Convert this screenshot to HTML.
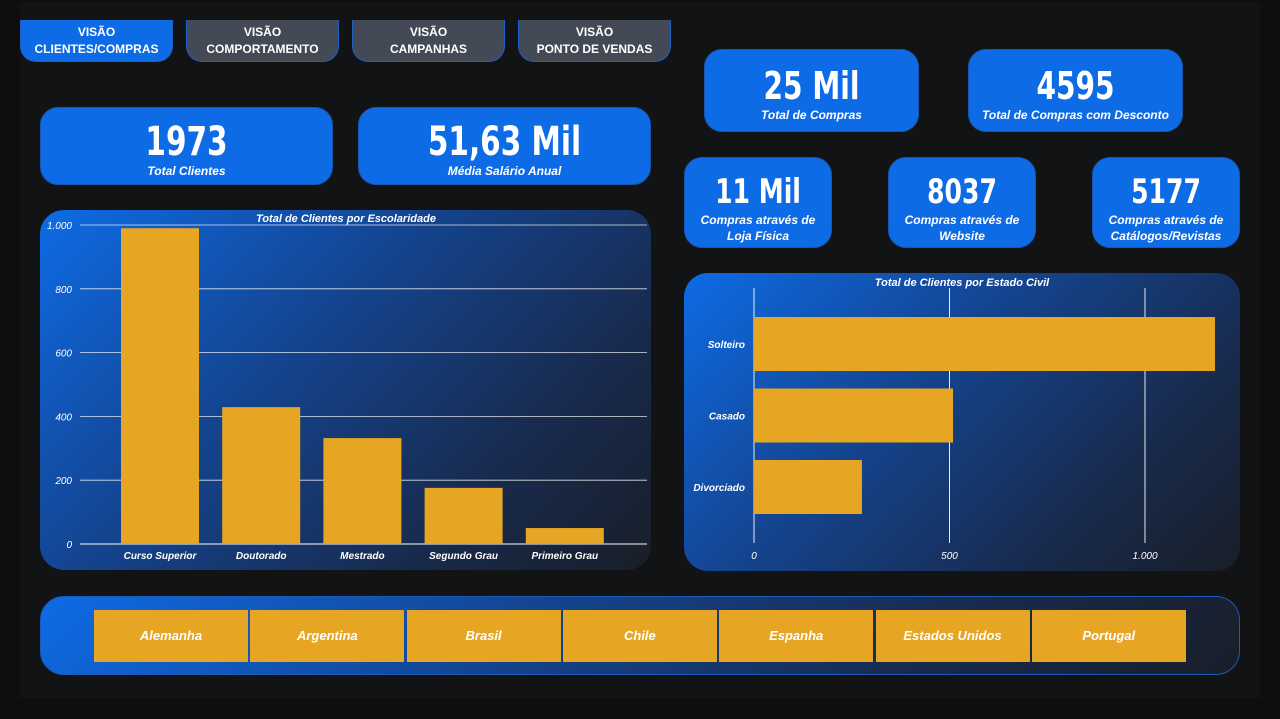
<!DOCTYPE html>
<html><head><meta charset="utf-8"><style>
*{margin:0;padding:0;box-sizing:border-box}
body{width:1280px;height:719px;background:#0e0e0e;position:relative;overflow:hidden;font-family:"Liberation Sans",sans-serif;color:#fff}
.canvas{position:absolute;left:20px;top:2px;width:1240px;height:696px;background:#121315}
.tab{position:absolute;top:20px;height:42px;border-radius:0 0 16px 16px;background:#434a55;border:1px solid #1e5fc8;border-top:none;font-weight:bold;font-size:12px;text-align:center;line-height:17px;padding-top:4px}
.tab.on{background:#0e6be6}
.kpi{position:absolute;background:#0e6be6;border-radius:18px;text-align:center;border:1px solid #1a56b0}
.kpi .v{font-weight:bold;font-family:"DejaVu Sans Condensed","Liberation Sans",sans-serif;transform:scaleX(0.82)}
.kpi .l{font-weight:bold;font-style:italic;font-size:12px}
.panel{position:absolute;border-radius:24px;background:linear-gradient(135deg,#0e6be6 0%,#14448f 40%,#182a4c 75%,#191e28 100%)}
svg text{font-family:"Liberation Sans",sans-serif;fill:#fff;font-style:italic}
.btn{position:absolute;top:610px;height:52px;background:#e6a624;font-weight:bold;font-style:italic;font-size:13px;text-align:center;line-height:52px}
</style></head><body>
<div class="canvas"></div>
<div class="tab on" style="left:20px;width:153px">VISÃO<br>CLIENTES/COMPRAS</div>
<div class="tab" style="left:186px;width:153px">VISÃO<br>COMPORTAMENTO</div>
<div class="tab" style="left:352px;width:153px">VISÃO<br>CAMPANHAS</div>
<div class="tab" style="left:518px;width:153px">VISÃO<br>PONTO DE VENDAS</div>

<div class="kpi" style="left:40px;top:107px;width:293px;height:78px"><div class="v" style="font-size:40px;margin-top:12px;line-height:44px">1973</div><div class="l">Total Clientes</div></div>
<div class="kpi" style="left:358px;top:107px;width:293px;height:78px"><div class="v" style="font-size:40px;margin-top:12px;line-height:44px">51,63 Mil</div><div class="l">Média Salário Anual</div></div>
<div class="kpi" style="left:704px;top:49px;width:215px;height:83px"><div class="v" style="font-size:38px;margin-top:14px;line-height:44px">25 Mil</div><div class="l">Total de Compras</div></div>
<div class="kpi" style="left:968px;top:49px;width:215px;height:83px"><div class="v" style="font-size:38px;margin-top:14px;line-height:44px">4595</div><div class="l">Total de Compras com Desconto</div></div>
<div class="kpi" style="left:684px;top:157px;width:148px;height:91px"><div class="v" style="font-size:34px;margin-top:14px;line-height:40px">11 Mil</div><div class="l" style="line-height:16px">Compras através de<br>Loja Física</div></div>
<div class="kpi" style="left:888px;top:157px;width:148px;height:91px"><div class="v" style="font-size:34px;margin-top:14px;line-height:40px">8037</div><div class="l" style="line-height:16px">Compras através de<br>Website</div></div>
<div class="kpi" style="left:1092px;top:157px;width:148px;height:91px"><div class="v" style="font-size:34px;margin-top:14px;line-height:40px">5177</div><div class="l" style="line-height:16px">Compras através de<br>Catálogos/Revistas</div></div>

<div class="panel" style="left:40px;top:210px;width:611px;height:360px"></div>
<svg id="c1" style="position:absolute;left:0;top:0" width="1280" height="719"></svg>
<div class="panel" style="left:684px;top:273px;width:556px;height:298px"></div>
<svg id="c2" style="position:absolute;left:0;top:0" width="1280" height="719"></svg>

<div class="panel" style="left:40px;top:596px;width:1200px;height:79px;border:1px solid #1d5ab8"></div>
<div id="btns"></div>
<script>
const eduCats=["Curso Superior","Doutorado","Mestrado","Segundo Grau","Primeiro Grau"];
const eduVals=[990,429,332,176,50];
const eduTicks=[0,200,400,600,800,1000];
const eduTickLabels=["0","200","400","600","800","1.000"];
const civCats=["Solteiro","Casado","Divorciado"];
const civVals=[1179,509,276];
const civTicks=[0,500,1000];
const civTickLabels=["0","500","1.000"];
const countries=["Alemanha","Argentina","Brasil","Chile","Espanha","Estados Unidos","Portugal"];
const NS="http://www.w3.org/2000/svg";
function mk(svg,t,a,txt){const e=document.createElementNS(NS,t);for(const k in a)e.setAttribute(k,a[k]);if(txt!==undefined)e.textContent=txt;svg.appendChild(e);return e;}
// chart 1
const s1=document.getElementById('c1');
const y1=v=>544-v*(319/1000);
const x1=i=>160+i*101.2;
mk(s1,'text',{x:346,y:222,'text-anchor':'middle','font-size':11,'font-weight':'bold'},"Total de Clientes por Escolaridade");
eduTicks.forEach((t,i)=>{
 const g=mk(s1,'line',{x1:80,x2:647,y1:y1(t),y2:y1(t),stroke:'#fff','stroke-width':t===0?1:0.8,opacity:t===0?1:0.85});
 
 const l=mk(s1,'text',{x:72,y:y1(t)+4,'text-anchor':'end','font-size':10},eduTickLabels[i]);
 
 
});
eduVals.forEach((v,i)=>{
 const r=mk(s1,'rect',{x:x1(i)-39,y:y1(v),width:78,height:544-y1(v),fill:'#e6a624'});
 
 
 const l=mk(s1,'text',{x:x1(i),y:559,'text-anchor':'middle','font-size':10,'font-weight':'bold'},eduCats[i]);
 
 
});
// chart 2
const s2=document.getElementById('c2');
const x2=v=>754+v*(391/1000);
const yc=i=>344+i*71.5;
mk(s2,'text',{x:962,y:286,'text-anchor':'middle','font-size':11,'font-weight':'bold'},"Total de Clientes por Estado Civil");
civTicks.forEach((t,i)=>{
 const g=mk(s2,'line',{x1:x2(t),x2:x2(t),y1:288,y2:543,stroke:'#fff','stroke-width':0.9});
 
 const l=mk(s2,'text',{x:x2(t),y:559,'text-anchor':'middle','font-size':10},civTickLabels[i]);
 
 
});
civVals.forEach((v,i)=>{
 const r=mk(s2,'rect',{x:754,y:yc(i)-27,width:x2(v)-754,height:54,fill:'#e6a624'});
 
 
 const l=mk(s2,'text',{x:745,y:yc(i)+4,'text-anchor':'end','font-size':10,'font-weight':'bold'},civCats[i]);
 
 
});
// slicer buttons
const bw=document.getElementById('btns');
countries.forEach((c,i)=>{
 const d=document.createElement('div');d.className='btn';
 d.style.left=(94+i*156.3)+'px';d.style.width='154px';d.textContent=c;
 
 
 bw.appendChild(d);
});
</script>
</body></html>
